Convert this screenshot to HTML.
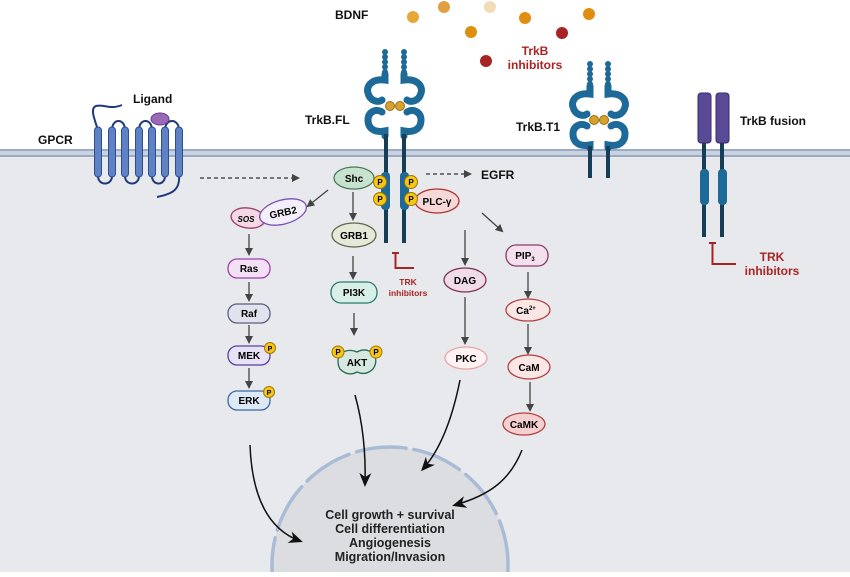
<!DOCTYPE html>
<html><head><meta charset="utf-8"><style>
html,body{margin:0;padding:0;background:#fff;width:850px;height:577px;overflow:hidden}
svg{display:block}
text{font-family:"Liberation Sans",sans-serif;font-weight:bold}
</style></head><body>
<svg width="850" height="577" viewBox="0 0 850 577" xmlns="http://www.w3.org/2000/svg">
<defs>
<marker id="ah" markerWidth="8" markerHeight="8" refX="6" refY="4" orient="auto" markerUnits="userSpaceOnUse"><path d="M0,0 L8,4 L0,8 z" fill="#444"/></marker>
<marker id="ahb" markerWidth="14" markerHeight="12" refX="11" refY="6" orient="auto" markerUnits="userSpaceOnUse"><path d="M0,0 L14,6 L0,12 L4,6 z" fill="#111"/></marker>
<clipPath id="cell"><rect x="0" y="0" width="850" height="572"/></clipPath>
</defs>
<rect x="0" y="0" width="850" height="577" fill="#fff"/>
<rect x="0" y="155" width="850" height="417" fill="#e8e9ec"/>
<!-- membrane -->
<rect x="0" y="149" width="850" height="8" fill="#c9d3e0"/>
<line x1="0" y1="150" x2="850" y2="150" stroke="#9aabc3" stroke-width="2"/>
<line x1="0" y1="156" x2="850" y2="156" stroke="#9aabc3" stroke-width="2"/>

<!-- nucleus -->
<g clip-path="url(#cell)">
<circle cx="390" cy="565" r="118" fill="#dcdde1"/>
<circle cx="390" cy="565" r="118" fill="none" stroke="#a9bcd6" stroke-width="3.5" stroke-dasharray="50,8" stroke-linecap="round"/>
</g>
<text x="390" y="519" font-size="12.5" text-anchor="middle" fill="#222">Cell growth + survival</text>
<text x="390" y="533" font-size="12.5" text-anchor="middle" fill="#222">Cell differentiation</text>
<text x="390" y="547" font-size="12.5" text-anchor="middle" fill="#222">Angiogenesis</text>
<text x="390" y="561" font-size="12.5" text-anchor="middle" fill="#222">Migration/Invasion</text>

<!-- BDNF balls -->
<circle cx="413" cy="17" r="6" fill="#e8a838"/>
<circle cx="444" cy="7" r="6" fill="#e0a040"/>
<circle cx="490" cy="7" r="6" fill="#f2dcb6"/>
<circle cx="525" cy="18" r="6" fill="#e08e10"/>
<circle cx="471" cy="32" r="6" fill="#e08e10"/>
<circle cx="589" cy="14" r="6" fill="#e08e10"/>
<circle cx="562" cy="33" r="6" fill="#a82424"/>
<circle cx="486" cy="61" r="6" fill="#a82424"/>
<text x="335" y="19" font-size="12" fill="#111">BDNF</text>
<text x="535" y="55" font-size="12" fill="#a82424" text-anchor="middle">TrkB</text>
<text x="535" y="69" font-size="12" fill="#a82424" text-anchor="middle">inhibitors</text>

<!-- GPCR -->
<text x="38" y="144" font-size="12" fill="#111">GPCR</text>
<text x="133" y="103" font-size="12" fill="#111">Ligand</text>
<g fill="none" stroke="#1e3a7a" stroke-width="2">
<path d="M98,130 C94,118 90,108 96,106 C104,104 110,110 122,105"/>
<path d="M98,176 C98,186 112,186 112,176"/>
<path d="M112,130 C112,118 125,118 125,130"/>
<path d="M125,176 C125,186 139,186 139,176"/>
<path d="M139,130 C139,118 152,118 152,130"/>
<path d="M152,176 C152,186 165,186 165,176"/>
<path d="M165,130 C165,118 179,118 179,130"/>
<path d="M179,176 C180,190 172,194 157,197"/>
</g>
<g fill="#5e82c4" stroke="#2e4e94" stroke-width="1">
<rect x="94.5" y="127" width="7" height="50" rx="3.5"/>
<rect x="108.5" y="127" width="7" height="50" rx="3.5"/>
<rect x="121.5" y="127" width="7" height="50" rx="3.5"/>
<rect x="135.5" y="127" width="7" height="50" rx="3.5"/>
<rect x="148.5" y="127" width="7" height="50" rx="3.5"/>
<rect x="161.5" y="127" width="7" height="50" rx="3.5"/>
<rect x="175.5" y="127" width="7" height="50" rx="3.5"/>
</g>
<ellipse cx="160" cy="119" rx="9" ry="6" fill="#9a6ab8" stroke="#6a3a8a"/>
<line x1="200" y1="178" x2="298" y2="178" stroke="#333" stroke-width="1.3" stroke-dasharray="4,3" marker-end="url(#ah)"/>

<!-- TrkB.FL -->
<text x="305" y="124" font-size="12" fill="#111">TrkB.FL</text>
<g fill="#1d6a98">
<circle cx="385" cy="52" r="3"/><circle cx="385" cy="57" r="3"/><circle cx="385" cy="62" r="3"/><circle cx="385" cy="67" r="3"/><circle cx="385" cy="72" r="3"/>
<circle cx="404" cy="52" r="3"/><circle cx="404" cy="57" r="3"/><circle cx="404" cy="62" r="3"/><circle cx="404" cy="67" r="3"/><circle cx="404" cy="72" r="3"/>
</g>
<g fill="none" stroke="#1d6a98" stroke-width="7" stroke-linecap="round">
<path d="M385,74 L385,80 C370,78 366,88 368,93 C370,101 378,103 382,100"/>
<path d="M382,112 C376,108 368,112 368,120 C368,128 374,133 385,131 L385,136"/>
<path d="M404,74 L404,80 C419,78 423,88 421,93 C419,101 411,103 407,100"/>
<path d="M407,112 C413,108 421,112 421,120 C421,128 415,133 404,131 L404,136"/>
</g>
<circle cx="390" cy="106" r="4.5" fill="#d8a030" stroke="#9a7010"/>
<circle cx="400" cy="106" r="4.5" fill="#d8a030" stroke="#9a7010"/>
<line x1="386" y1="134" x2="386" y2="243" stroke="#163e56" stroke-width="4"/>
<line x1="404" y1="134" x2="404" y2="243" stroke="#163e56" stroke-width="4"/>
<rect x="381" y="172" width="9" height="38" rx="4" fill="#1d6a98"/>
<rect x="400" y="172" width="9" height="38" rx="4" fill="#1d6a98"/>

<!-- TrkB.T1 -->
<text x="516" y="131" font-size="12" fill="#111">TrkB.T1</text>
<g fill="#1d6a98">
<circle cx="590" cy="64" r="3"/><circle cx="590" cy="69" r="3"/><circle cx="590" cy="74" r="3"/><circle cx="590" cy="79" r="3"/><circle cx="590" cy="84" r="3"/>
<circle cx="608" cy="64" r="3"/><circle cx="608" cy="69" r="3"/><circle cx="608" cy="74" r="3"/><circle cx="608" cy="79" r="3"/><circle cx="608" cy="84" r="3"/>
</g>
<g fill="none" stroke="#1d6a98" stroke-width="7" stroke-linecap="round">
<path d="M590,86 L590,94 C575,92 571,102 573,107 C575,115 583,117 587,114"/>
<path d="M587,126 C581,122 573,126 573,134 C573,142 579,147 590,145 L590,148"/>
<path d="M608,86 L608,94 C623,92 627,102 625,107 C623,115 615,117 611,114"/>
<path d="M611,126 C617,122 625,126 625,134 C625,142 619,147 608,145 L608,148"/>
</g>
<circle cx="594" cy="120" r="4.5" fill="#d8a030" stroke="#9a7010"/>
<circle cx="604" cy="120" r="4.5" fill="#d8a030" stroke="#9a7010"/>
<line x1="590" y1="146" x2="590" y2="178" stroke="#163e56" stroke-width="4"/>
<line x1="608" y1="146" x2="608" y2="178" stroke="#163e56" stroke-width="4"/>

<!-- TrkB fusion -->
<text x="740" y="125" font-size="12" fill="#111">TrkB fusion</text>
<line x1="704" y1="140" x2="704" y2="237" stroke="#163e56" stroke-width="4"/>
<line x1="722" y1="140" x2="722" y2="237" stroke="#163e56" stroke-width="4"/>
<rect x="698" y="93" width="13" height="50" rx="3" fill="#5a4a96" stroke="#3a2a70"/>
<rect x="716" y="93" width="13" height="50" rx="3" fill="#5a4a96" stroke="#3a2a70"/>
<rect x="700" y="169" width="9" height="36" rx="4" fill="#1d6a98"/>
<rect x="718" y="169" width="9" height="36" rx="4" fill="#1d6a98"/>
<path d="M709,243 L716,243 M712.5,243 L712.5,264 L736,264" fill="none" stroke="#a82424" stroke-width="2"/>
<text x="772" y="261" font-size="12" fill="#a82424" text-anchor="middle">TRK</text>
<text x="772" y="275" font-size="12" fill="#a82424" text-anchor="middle">inhibitors</text>

<!-- TRK inhibitor FL -->
<path d="M392,253 L399,253 M395.5,253 L395.5,268 L414,268" fill="none" stroke="#a82424" stroke-width="2"/>
<text x="408" y="285" font-size="8.5" fill="#a82424" text-anchor="middle">TRK</text>
<text x="408" y="296" font-size="8.5" fill="#a82424" text-anchor="middle">inhibitors</text>

<!-- EGFR -->
<line x1="426" y1="174" x2="470" y2="174" stroke="#333" stroke-width="1.3" stroke-dasharray="4,3" marker-end="url(#ah)"/>
<text x="481" y="179" font-size="12" fill="#111">EGFR</text>

<!-- arrows -->
<g stroke="#444" stroke-width="1.3" fill="none" marker-end="url(#ah)">
<line x1="328" y1="190" x2="308" y2="206"/>
<line x1="353" y1="192" x2="353" y2="219"/>
<line x1="353" y1="256" x2="353" y2="278"/>
<line x1="354" y1="313" x2="354" y2="334"/>
<line x1="249" y1="234" x2="249" y2="254"/>
<line x1="249" y1="282" x2="249" y2="300"/>
<line x1="249" y1="325" x2="249" y2="342"/>
<line x1="249" y1="368" x2="249" y2="387"/>
<line x1="465" y1="230" x2="465" y2="264"/>
<line x1="465" y1="297" x2="465" y2="343"/>
<line x1="482" y1="213" x2="502" y2="231"/>
<line x1="528" y1="272" x2="528" y2="297"/>
<line x1="528" y1="324" x2="528" y2="353"/>
<line x1="530" y1="382" x2="530" y2="410"/>
</g>
<g stroke="#111" stroke-width="1.5" fill="none" marker-end="url(#ahb)">
<path d="M250,445 C252,500 270,530 300,541"/>
<path d="M355,395 C362,420 366,450 365,484"/>
<path d="M460,380 C452,420 440,450 423,469"/>
<path d="M522,450 C510,480 490,495 455,505"/>
</g>

<!-- nodes -->
<g font-size="10" text-anchor="middle">
<ellipse cx="354" cy="178" rx="20" ry="11" fill="#c8e2d0" stroke="#4a7a5a" stroke-width="1.3"/>
<text x="354" y="182">Shc</text>
<ellipse cx="437" cy="201" rx="22" ry="12" fill="#f6d8d8" stroke="#b03030" stroke-width="1.3"/>
<text x="437" y="205">PLC-γ</text>
<ellipse cx="248" cy="218" rx="17" ry="10" fill="#f4d8e6" stroke="#9a3d6a" stroke-width="1.3" transform="rotate(8 248 218)"/>
<text x="246" y="222" font-size="8" font-style="italic" font-weight="normal">SOS</text>
<ellipse cx="283" cy="212" rx="24" ry="12" fill="#f4f0fb" stroke="#7a4fb0" stroke-width="1.3" transform="rotate(-15 283 212)"/>
<text x="283" y="216" transform="rotate(-12 283 212)">GRB2</text>
<rect x="228" y="259" width="42" height="19" rx="9" fill="#f4e0f4" stroke="#a040b0" stroke-width="1.3"/>
<text x="249" y="272">Ras</text>
<rect x="228" y="304" width="42" height="19" rx="9" fill="#e0e3ee" stroke="#5a6080" stroke-width="1.3"/>
<text x="249" y="317">Raf</text>
<rect x="228" y="346" width="42" height="19" rx="9" fill="#e8e2f6" stroke="#5a40a0" stroke-width="1.3"/>
<text x="249" y="359">MEK</text>
<rect x="228" y="391" width="42" height="19" rx="9" fill="#dde9f6" stroke="#3a6aa0" stroke-width="1.3"/>
<text x="249" y="404">ERK</text>
<ellipse cx="354" cy="235" rx="22" ry="12" fill="#e4e9d8" stroke="#5a6a4a" stroke-width="1.3"/>
<text x="354" y="239">GRB1</text>
<rect x="331" y="282" width="46" height="21" rx="10" fill="#d8efe8" stroke="#2a7a6a" stroke-width="1.3"/>
<text x="354" y="296">PI3K</text>
<path d="M340,354 Q348,348 357,352 Q366,347 374,354 Q378,362 373,369 Q366,376 357,372 Q348,377 340,369 Q336,362 340,354 z" fill="#d6e8e0" stroke="#2a6a5a" stroke-width="1.3"/>
<text x="357" y="366">AKT</text>
<ellipse cx="465" cy="280" rx="21" ry="12" fill="#f0dce6" stroke="#7a3050" stroke-width="1.3"/>
<text x="465" y="284">DAG</text>
<ellipse cx="466" cy="358" rx="21" ry="11" fill="#fff2f2" stroke="#e8a4a4" stroke-width="1.3"/>
<text x="466" y="362">PKC</text>
<rect x="506" y="245" width="42" height="21" rx="10" fill="#f3e0ec" stroke="#8a3a6a" stroke-width="1.3"/>
<text x="525" y="259">PIP<tspan font-size="6" dy="2">3</tspan></text>
<ellipse cx="528" cy="310" rx="22" ry="11" fill="#fbe6e6" stroke="#b04040" stroke-width="1.3"/>
<text x="526" y="314">Ca<tspan font-size="6" dy="-4">2+</tspan></text>
<ellipse cx="529" cy="367" rx="21" ry="12" fill="#fbe6e6" stroke="#b04040" stroke-width="1.3"/>
<text x="529" y="371">CaM</text>
<ellipse cx="524" cy="424" rx="21" ry="11" fill="#f6d0d0" stroke="#b04040" stroke-width="1.3"/>
<text x="524" y="428">CaMK</text>
</g>
<!-- P circles -->
<g font-size="8" text-anchor="middle" font-weight="normal">
<g fill="#f5c518" stroke="#a07800" stroke-width="1">
<circle cx="380" cy="182" r="6.5"/><circle cx="380" cy="199" r="6.5"/>
<circle cx="411" cy="182" r="6.5"/><circle cx="411" cy="199" r="6.5"/>
<circle cx="270" cy="348" r="5.5"/><circle cx="269" cy="392" r="5.5"/>
<circle cx="338" cy="352" r="6"/><circle cx="376" cy="352" r="6"/>
</g>
<text x="380" y="185">P</text><text x="380" y="202">P</text>
<text x="411" y="185">P</text><text x="411" y="202">P</text>
<text x="270" y="351" font-size="7">P</text><text x="269" y="395" font-size="7">P</text>
<text x="338" y="355">P</text><text x="376" y="355">P</text>
</g>
</svg>
</body></html>
